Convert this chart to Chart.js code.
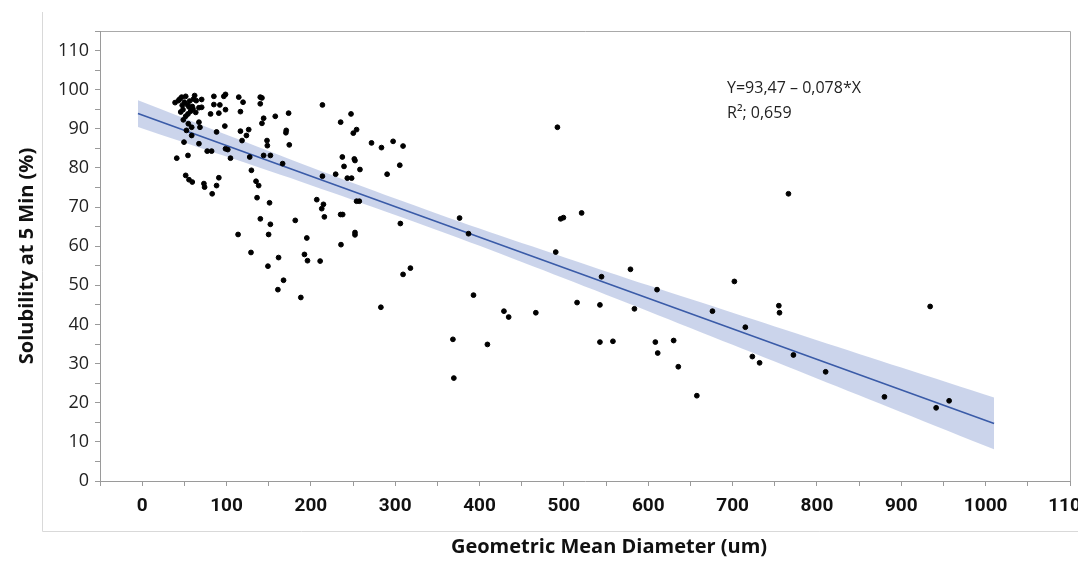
<!DOCTYPE html>
<html>
<head>
<meta charset="utf-8">
<script src="https://cdn.jsdelivr.net/npm/chart.js@4.4.1/dist/chart.umd.min.js"></script>
<style>
  html, body { margin: 0; padding: 0; background: #fff; }
</style>
</head>
<body>
<canvas id="scatterChart" width="1078" height="564"></canvas>
<script>
// datos (diametro medio geometrico vs solubilidad a 5 min)
const gmdValues = [
  39, 42.9, 46.8, 51.6, 50, 53.5, 56.3, 59.4, 62.2, 64.1,
  45.7, 48.4, 51.6, 54.3, 57.5, 60.2, 48.8, 54.7, 58.7, 58.7,
  49.6, 54.3, 41, 51.6, 55.5, 59.4, 44.5, 47.5, 55.5, 60.8,
  63.5, 52.5, 70.5, 85, 96.8, 98.8, 85, 92.1, 114.5, 119.6,
  140, 142, 140, 67.3, 70.5, 81.1, 90.9, 98.8, 116.5, 144,
  142, 157.8, 173.6, 213.7, 247.6, 235.3, 250.3, 254.2, 67.3, 68.5,
  98, 88.2, 116.5, 126.3, 123.6, 118.4, 170.8, 170.4, 148, 148.4,
  174.4, 271.9, 283.7, 297.5, 309.3, 67.3, 77.1, 82.3, 98.8, 101.5,
  104.7, 127.5, 144, 152, 166.5, 237.3, 239.3, 251.5, 252.3, 258.2,
  243.2, 248.3, 213.7, 229.4, 305.4, 290.4, 129.5, 73.2, 74, 88.2,
  90.9, 83, 135, 138.1, 136.2, 151, 207, 214.9, 212.9, 216,
  254.2, 257.4, 181.5, 140.1, 152, 149.9, 113.7, 235.3, 237.7, 252.3,
  252.3, 306.1, 235.7, 129, 161.7, 195.2, 192.4, 196, 211, 149.1,
  309.3, 318, 167.6, 160.9, 188.1, 283, 376.3, 386.9, 392.8, 368.4,
  369.5, 409.3, 428.9, 434.5, 466.7, 490.3, 496.2, 499.4, 521, 515.6,
  492.3, 766.2, 578.9, 544.6, 610.4, 702.1, 542.7, 583.6, 676.1, 715.1,
  754.8, 755.6, 542.7, 558.1, 608.4, 611.2, 630.1, 635.6, 657.6, 723.4,
  732, 772.1, 810.3, 934.2, 880, 941.3, 956.7
];
const solubilityValues = [
  96.7, 97.2, 98.1, 98.3, 96.8, 96.2, 97.1, 95.7, 98.5, 97.2,
  94.3, 94.9, 93.2, 93.8, 94.5, 95.1, 92.3, 91.3, 90.4, 88.3,
  86.6, 83.2, 82.5, 78.1, 77, 76.4, 97.6, 96, 95.6, 97.6,
  94.2, 89.6, 97.5, 98.3, 98.3, 98.8, 96.2, 96.1, 98.1, 96.8,
  98.1, 97.9, 96.4, 95.4, 95.5, 93.8, 94, 94.9, 94.4, 92.7,
  91.4, 93.2, 94, 96.1, 93.8, 91.7, 88.9, 89.8, 91.7, 90.4,
  90.7, 89.2, 89.4, 89.8, 88.3, 87, 89.6, 89, 87, 85.7,
  85.9, 86.4, 85.2, 86.8, 85.6, 86.2, 84.3, 84.3, 84.9, 84.7,
  82.5, 82.8, 83.2, 83.2, 81.1, 82.8, 80.4, 82.3, 81.9, 79.6,
  77.4, 77.4, 77.9, 78.4, 80.7, 78.4, 79.4, 76, 75.1, 75.5,
  77.5, 73.4, 76.6, 75.5, 72.4, 71.1, 71.9, 70.7, 69.6, 67.5,
  71.5, 71.5, 66.6, 67, 65.6, 63, 63, 68.1, 68.1, 63.5,
  62.9, 65.8, 60.4, 58.4, 57.1, 62.1, 57.9, 56.3, 56.2, 54.9,
  52.8, 54.4, 51.3, 48.9, 46.9, 44.4, 67.2, 63.2, 47.5, 36.2,
  26.3, 34.9, 43.4, 41.9, 43, 58.5, 67, 67.3, 68.5, 45.6,
  90.4, 73.4, 54.1, 52.2, 48.9, 51, 45, 44, 43.4, 39.3,
  44.8, 43, 35.5, 35.7, 35.5, 32.7, 35.9, 29.2, 21.8, 31.8,
  30.2, 32.2, 27.9, 44.6, 21.5, 18.7, 20.5
];

// recta de ajuste y banda de confianza
const fitX = [-5, 1010];
const fitY = [93.9, 14.7];
const bandX = [-5, 100, 200, 300, 400, 500, 600, 700, 800, 900, 1010];
const bandUpper = [97.3, 88.5, 80.2, 72.2, 64.5, 57.2, 50.0, 43.0, 36.0, 29.0, 21.3];
const bandLower = [90.5, 82.9, 75.6, 68.0, 60.1, 51.8, 43.4, 34.8, 26.2, 17.6, 8.1];

const equationLines = ['Y=93,47 \u2013 0,078*X', 'R\u00b2; 0,659'];
const xTitle = 'Geometric Mean Diameter (um)';
const yTitle = 'Solubility at 5 Min (%)';

const toPoints = (xs, ys) => xs.map((x, i) => ({ x: x, y: ys[i] }));

// marco, titulo del eje X y ecuacion
const marcoPlugin = {
  id: 'marco',
  beforeDraw(chart) {
    const ctx = chart.ctx;
    const a = chart.chartArea;
    ctx.save();
    ctx.lineWidth = 1;
    ctx.strokeStyle = '#d9d9d9';
    ctx.beginPath();
    ctx.moveTo(42.5, 12);
    ctx.lineTo(42.5, 531.5);
    ctx.lineTo(1078, 531.5);
    ctx.stroke();
    ctx.strokeStyle = '#a9a9a9';
    ctx.beginPath();
    ctx.moveTo(a.left, a.top + 0.5);
    ctx.lineTo(a.right + 0.5, a.top + 0.5);
    ctx.lineTo(a.right + 0.5, a.bottom);
    ctx.stroke();
    ctx.restore();
  },
  afterDraw(chart) {
    const ctx = chart.ctx;
    ctx.save();
    ctx.fillStyle = '#111';
    ctx.font = 'bold 20px "Open Sans", sans-serif';
    ctx.textAlign = 'center';
    ctx.textBaseline = 'middle';
    ctx.fillText(xTitle, 609, 547);
    ctx.font = '16px "Open Sans", sans-serif';
    ctx.textAlign = 'left';
    ctx.fillStyle = '#222';
    ctx.fillText(equationLines[0], 727, 88);
    ctx.fillText(equationLines[1], 727, 113);
    ctx.restore();
  }
};

const ctx = document.getElementById('scatterChart').getContext('2d');

const chart = new Chart(ctx, {
  type: 'scatter',
  data: {
    datasets: [
      {
        label: 'Datos',
        data: toPoints(gmdValues, solubilityValues),
        backgroundColor: '#000',
        borderColor: '#000',
        pointRadius: 2.4,
        pointHoverRadius: 2.4
      },
      {
        label: 'Ajuste',
        data: toPoints(fitX, fitY),
        showLine: true,
        borderColor: '#3a5ba8',
        borderWidth: 1.6,
        pointRadius: 0,
        fill: false
      },
      {
        label: 'IC superior',
        data: toPoints(bandX, bandUpper),
        showLine: true,
        borderWidth: 0,
        borderColor: 'rgba(0,0,0,0)',
        backgroundColor: 'rgba(168,184,221,0.6)',
        pointRadius: 0,
        tension: 0.3,
        fill: '+1'
      },
      {
        label: 'IC inferior',
        data: toPoints(bandX, bandLower),
        showLine: true,
        borderWidth: 0,
        borderColor: 'rgba(0,0,0,0)',
        pointRadius: 0,
        tension: 0.3,
        fill: false
      }
    ]
  },
  options: {
    responsive: false,
    animation: false,
    events: [],
    layout: { padding: { left: 0, right: 8, top: 31, bottom: 0 } },
    plugins: {
      legend: { display: false },
      tooltip: { enabled: false }
    },
    scales: {
      x: {
        type: 'linear',
        min: -50,
        max: 1100,
        afterFit(scale) {
          scale.height = 83;
          scale.paddingLeft = 0;
          scale.paddingRight = 0;
        },
        border: { display: true, color: '#9a9a9a' },
        grid: { drawOnChartArea: false, drawTicks: true, tickLength: 5, color: '#9a9a9a' },
        ticks: {
          stepSize: 50,
          autoSkip: false,
          maxRotation: 0,
          padding: 9,
          color: '#111',
          font: { family: 'Roboto, sans-serif', size: 19, weight: 'bold' },
          callback: (v) => (v >= 0 && v % 100 === 0) ? v : ''
        }
      },
      y: {
        type: 'linear',
        min: 0,
        max: 115,
        afterFit(scale) {
          scale.width = 100;
          scale.paddingTop = 0;
          scale.paddingBottom = 0;
        },
        border: { display: true, color: '#9a9a9a' },
        grid: { drawOnChartArea: false, drawTicks: true, tickLength: 5, color: '#9a9a9a' },
        ticks: {
          stepSize: 5,
          autoSkip: false,
          padding: 6,
          color: '#222',
          font: { family: '"Open Sans", sans-serif', size: 18 },
          callback: (v) => (v % 10 === 0) ? v : ''
        },
        title: {
          display: true,
          text: yTitle,
          color: '#111',
          padding: { top: 15, bottom: 0 },
          font: { family: '"Open Sans", sans-serif', size: 20, weight: 'bold' }
        }
      }
    }
  },
  plugins: [marcoPlugin]
});
</script>
</body>
</html>
